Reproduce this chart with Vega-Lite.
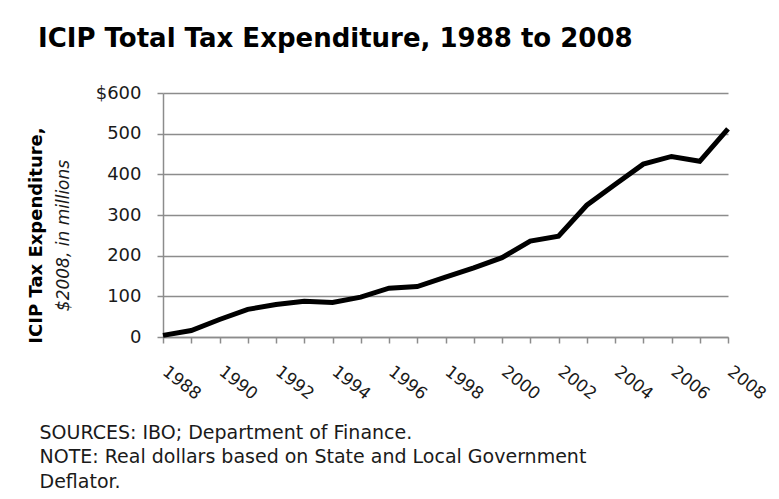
{
  "$schema": "https://vega.github.io/schema/vega-lite/v6.json",
  "width": 565,
  "height": 244,
  "padding": {"left": 27, "top": 26, "right": 10, "bottom": 5},
  "background": "white",
  "title": {
    "text": "ICIP Total Tax Expenditure, 1988 to 2008",
    "anchor": "start",
    "frame": "bounds",
    "dx": 11,
    "fontSize": 26,
    "font": "DejaVu Sans",
    "fontWeight": "bold",
    "color": "#000000",
    "offset": 32
  },
  "data": {
    "values": [
      {"year": "1988", "value": 4},
      {"year": "1989", "value": 16},
      {"year": "1990", "value": 43},
      {"year": "1991", "value": 68},
      {"year": "1992", "value": 80},
      {"year": "1993", "value": 88},
      {"year": "1994", "value": 85},
      {"year": "1995", "value": 98},
      {"year": "1996", "value": 120},
      {"year": "1997", "value": 124},
      {"year": "1998", "value": 147},
      {"year": "1999", "value": 170},
      {"year": "2000", "value": 195},
      {"year": "2001", "value": 236},
      {"year": "2002", "value": 248},
      {"year": "2003", "value": 324},
      {"year": "2004", "value": 375},
      {"year": "2005", "value": 425},
      {"year": "2006", "value": 444},
      {"year": "2007", "value": 432},
      {"year": "2008", "value": 512}
    ]
  },
  "layer": [
    {
      "mark": {"type": "line", "color": "#000000", "strokeWidth": 5, "strokeJoin": "miter", "strokeCap": "butt"},
      "encoding": {
        "x": {
          "field": "year",
          "type": "ordinal",
          "scale": {"type": "point", "padding": 0},
          "axis": {
            "labelExpr": "toNumber(datum.value) % 2 == 0 ? datum.label : ''",
            "labelAngle": 38,
            "labelAlign": "left",
            "labelBaseline": "top",
            "labelPadding": 20,
            "labelOffset": 6,
            "labelFontSize": 17,
            "labelFont": "DejaVu Sans",
            "labelColor": "#1a1a1a",
            "labelOverlap": false,
            "domainColor": "#8c8c8c",
            "domainWidth": 1.5,
            "tickColor": "#8c8c8c",
            "tickWidth": 1.5,
            "tickSize": 6,
            "grid": false,
            "title": ["SOURCES: IBO; Department of Finance.", "NOTE: Real dollars based on State and Local Government", "Deflator."],
            "titleFont": "DejaVu Sans",
            "titleFontSize": 19,
            "titleFontWeight": "normal",
            "titleColor": "#1a1a1a",
            "titleAlign": "left",
            "titleAnchor": "start",
            "titleBaseline": "alphabetic",
            "titleLineHeight": 24.5,
            "titleX": -124,
            "titleY": 101
          }
        },
        "y": {
          "field": "value",
          "type": "quantitative",
          "scale": {"domain": [0, 600]},
          "axis": {
            "values": [0, 100, 200, 300, 400, 500, 600],
            "labelExpr": "datum.value == 600 ? '$600' : datum.label",
            "labelFontSize": 18,
            "labelFont": "DejaVu Sans",
            "labelColor": "#1a1a1a",
            "labelPadding": 16,
            "domainColor": "#8c8c8c",
            "domainWidth": 1.5,
            "tickColor": "#8c8c8c",
            "tickWidth": 1.5,
            "tickSize": 6,
            "gridColor": "#8c8c8c",
            "gridWidth": 1.5,
            "title": "$2008, in millions",
            "titleFont": "DejaVu Sans",
            "titleFontSize": 17,
            "titleFontWeight": "normal",
            "titleFontStyle": "italic",
            "titleColor": "#1a1a1a",
            "titlePadding": 23,
            "titleY": 142
          }
        }
      }
    },
    {
      "mark": {"type": "line", "opacity": 0},
      "encoding": {
        "x": {"field": "year", "type": "ordinal", "scale": {"type": "point", "padding": 0}},
        "y": {
          "field": "value",
          "type": "quantitative",
          "scale": {"domain": [0, 600]},
          "axis": {
            "orient": "left",
            "labels": false,
            "ticks": false,
            "domain": false,
            "grid": false,
            "title": "ICIP Tax Expenditure,",
            "titleFont": "DejaVu Sans",
            "titleFontSize": 18,
            "titleFontWeight": "bold",
            "titleColor": "#000000",
            "titlePadding": 118,
            "titleY": 142
          }
        }
      }
    }
  ],
  "resolve": {"axis": {"y": "independent"}},
  "config": {"view": {"stroke": null}}
}
